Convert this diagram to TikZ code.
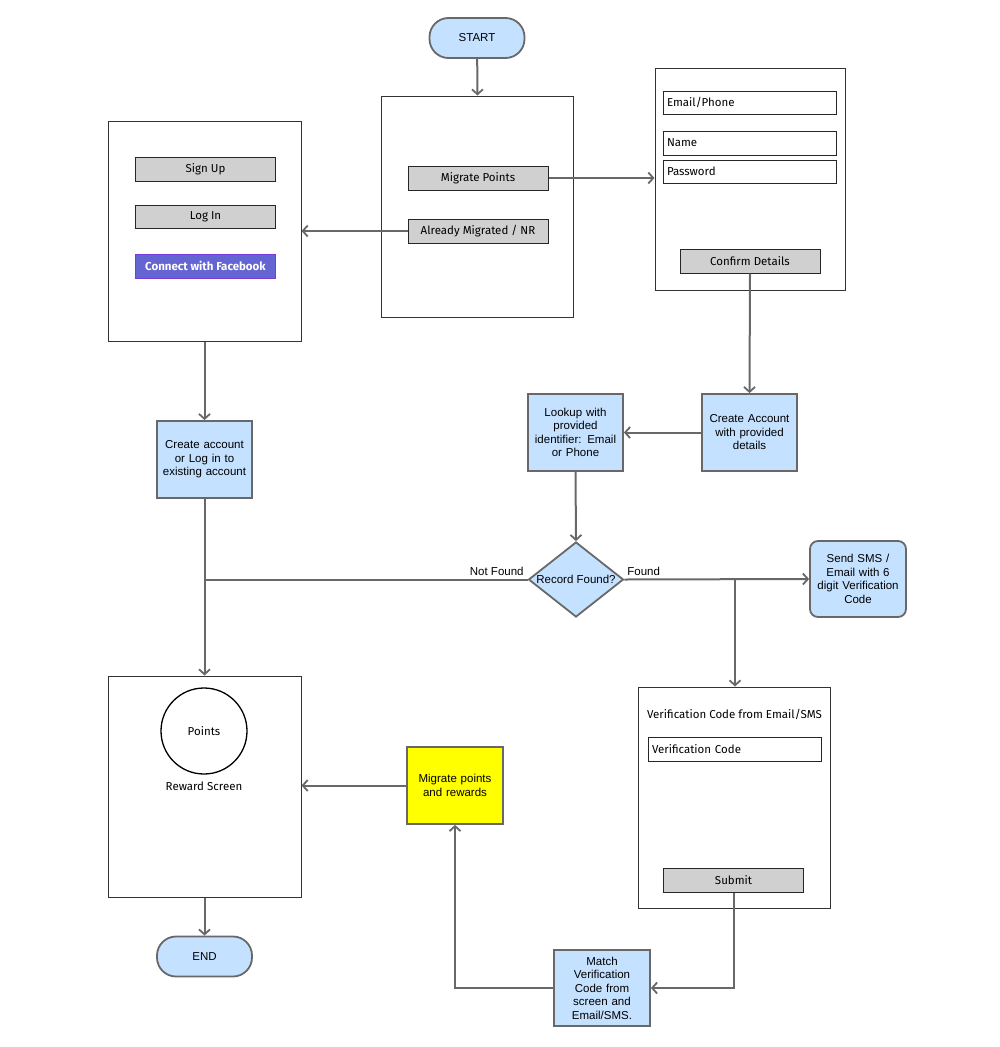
\documentclass[tikz,border=0pt]{standalone}
\usepackage{fontspec}
\setmainfont{Liberation Sans}
\newfontfamily\sketchfont{Fira Sans}
\usetikzlibrary{positioning,shapes.geometric,arrows.meta}
\definecolor{flowblue}{HTML}{C4E1FF}
\definecolor{flowgray}{HTML}{686868}
\definecolor{btngray}{HTML}{D0D0D0}
\definecolor{fbfill}{HTML}{6464D2}
\definecolor{fbline}{HTML}{7A3CD6}
\definecolor{notey}{HTML}{FFFF00}
\newcommand{\flowtext}{\fontsize{11.5}{13.5}\selectfont}
\newcommand{\sketchtext}{\sketchfont\fontsize{11.5}{13.5}\selectfont}
\tikzset{
  proc node/.style={rectangle,draw=flowgray,fill=flowblue,line width=1.8pt,
    minimum width=95pt,minimum height=77pt,text width=88pt,align=center,
    inner sep=2pt,font=\flowtext},
  term node/.style={rectangle,rounded corners=19pt,draw=flowgray,fill=flowblue,
    line width=1.8pt,minimum width=95pt,minimum height=40pt,font=\flowtext},
  decide node/.style={diamond,draw=flowgray,fill=flowblue,line width=1.8pt,
    aspect=1.27,inner sep=0pt,minimum width=95pt,minimum height=75pt,font=\flowtext},
  screen node/.style={rectangle,draw=black!80,line width=1pt,fill=white,
    minimum width=192pt,minimum height=221pt},
  button node/.style={rectangle,draw=black!85,fill=btngray,line width=1pt,
    minimum width=140pt,minimum height=24pt,inner sep=0pt,font=\sketchtext},
  field node/.style={rectangle,draw=black!85,fill=white,line width=1pt,
    text width=165pt,align=left,minimum height=23pt,inner xsep=4pt,
    inner ysep=0pt,font=\sketchtext},
  link/.style={draw=flowgray,line width=2pt,
    -{Straight Barb[length=5pt,width=11pt,line width=1.8pt]}},
  flat link/.style={draw=flowgray,line width=2pt},
  flow label/.style={font=\flowtext,inner sep=1pt},
}
\begin{document}
\begin{tikzpicture}[x=1pt,y=-1pt]
\useasboundingbox (0,0) rectangle (1000,1047);

% screens
\node[screen node] (scr1) at (477.5,206.5) {};
\node[screen node,minimum width=190pt,minimum height=222pt] (scr2) at (750,179) {};
\node[screen node,minimum width=193pt,minimum height=220pt] (scr3) at (204.5,231) {};
\node[screen node,minimum width=193pt] (reward) at (204.5,786.5) {};
\node[screen node] (verify) at (734,797.5) {};

% start screen
\node[term node] (start) at (477,38) {START};
\node[button node] (migbtn) at (478,178) {Migrate Points};
\node[button node] (alrbtn) at (478,231) {Already Migrated / NR};

% details screen
\node[field node] (fmail) at (749.5,102.5) {Email/Phone};
\node[field node,minimum height=24pt] (fname) at (749.5,143) {Name};
\node[field node] (fpass) at (749.5,171.5) {Password};
\node[button node] (confirm) at (750,261) {Confirm Details};

% login screen
\node[button node] (signup) at (205.5,169) {Sign Up};
\node[button node,minimum height=23pt] (login) at (205.5,216.5) {Log In};
\node[button node,draw=fbline,fill=fbfill,text=white,font=\sketchtext\bfseries] (fbbtn) at (205.5,266) {Connect with Facebook};

% flow boxes
\node[proc node] (createlog) at (204.5,459.5) {Create account\\or Log in to\\existing account};
\node[proc node] (createacc) at (749.5,432.5) {Create Account\\with provided\\details};
\node[proc node] (lookup) at (575.5,432.5) {Lookup with\\provided\\identifier: Email\\or Phone};
\node[decide node] (decide) at (576,579.5) {Record Found?};
\node[proc node,rounded corners=8pt,minimum width=96pt,minimum height=76pt] (sendsms) at (858,579) {Send SMS /\\Email with 6\\digit Verification\\Code};
\node[proc node,fill=notey,minimum width=96pt] (migrate) at (455,785.5) {Migrate points\\and rewards};
\node[proc node,minimum width=96pt,minimum height=76pt] (match) at (602,988) {Match\\Verification\\Code from\\screen and\\Email/SMS.};

% reward screen
\node[circle,draw=black,line width=1.3pt,minimum size=86pt,font=\sketchtext] (points) at (204,731) {Points};
\node[font=\sketchtext] (rewtitle) at (204,786) {Reward Screen};
\node[term node] (endnode) at (204.5,956.5) {END};

% verification screen
\node[font=\sketchtext,inner sep=0pt] (vtitle) at (734.5,714) {Verification Code from Email/SMS};
\node[field node,text width=165pt,minimum height=24pt] (fcode) at (734.5,749) {Verification Code};
\node[button node] (submit) at (733.5,880.5) {Submit};

\coordinate (branch) at (735,579.5);

\path[link] (start) -- (scr1.north);
\path[link] (migbtn.east) -- (migbtn -| scr2.west);
\path[link] (alrbtn.west) -- (alrbtn -| scr3.east);
\path[link] (scr3.south) -- (createlog.north);
\path[link] (createlog.south) -- (reward.north);
\path[link] (confirm.south) -- (createacc.north);
\path[link] (createacc.west) -- (lookup.east);
\path[link] (lookup.south) -- (decide.north);
\path[flat link] (decide.west) -- (decide.west -| createlog)
  node[flow label,pos=0,anchor=south east,xshift=-2pt,yshift=2pt] {Not Found};
\path[link] (decide.east) -- (sendsms.west)
  node[flow label,pos=0,anchor=south west,xshift=1pt,yshift=2pt] {Found};
\path[link] (branch) -- (branch |- verify.north);
\path[link] (submit.south) |- (match.east);
\path[link] (match.west) -| (migrate.south);
\path[link] (migrate.west) -- (migrate -| reward.east);
\path[link] (reward.south) -- (endnode.north);
\end{tikzpicture}
\end{document}
